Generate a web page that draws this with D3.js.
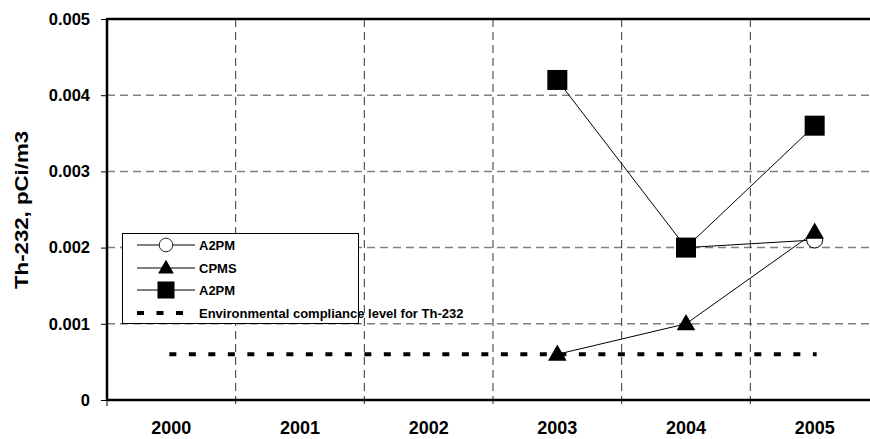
<!DOCTYPE html>
<html><head><meta charset="utf-8">
<script src="https://cdn.jsdelivr.net/npm/d3@7"></script>
<style>body{margin:0;background:#fff;overflow:hidden}svg{display:block;font-family:"Liberation Sans",Arial,sans-serif}</style>
</head><body><svg id="c" width="870" height="439"></svg>
<script>
const years = ["2000","2001","2002","2003","2004","2005"];
const yTicks = [0, 0.001, 0.002, 0.003, 0.004, 0.005];
const a2pmCircle = [null, null, null, null, 0.002, 0.0021];
const cpms = [null, null, null, 0.0006, 0.001, 0.0022];
const a2pmSquare = [null, null, null, 0.0042, 0.002, 0.0036];
const compliance = 0.0006;
const legendLabels = ["A2PM", "CPMS", "A2PM", "Environmental compliance level for Th-232"];

const svg = d3.select("#c");
const L = 107, R = 879, T = 19, B = 400;
const x = d3.scaleBand().domain(years).range([L, R]);
const y = d3.scaleLinear().domain([0, 0.005]).range([B, T]);

// horizontal grid
svg.append("g").selectAll("line").data(yTicks.filter(d => d > 0 && d < 0.005)).join("line")
  .attr("x1", L).attr("x2", R).attr("y1", d => y(d)).attr("y2", d => y(d))
  .attr("stroke", "#808080").attr("stroke-width", 1.5).attr("stroke-dasharray", "8,5");
// vertical grid
svg.append("g").selectAll("line").data(years.slice(1)).join("line")
  .attr("x1", d => x(d)).attr("x2", d => x(d)).attr("y1", T).attr("y2", B + 6)
  .attr("stroke", "#333").attr("stroke-width", 1).attr("stroke-dasharray", "8,5");

// axes
const yAxis = d3.axisLeft(y).tickValues(yTicks).tickSize(6).tickFormat(d => d === 0 ? "0" : d3.format(".3f")(d));
const gy = svg.append("g").attr("transform", `translate(${L},0)`).call(yAxis);
gy.select(".domain").remove();
gy.selectAll(".tick line").attr("stroke", "#000");
gy.selectAll("text").attr("font-size", 16.5).attr("font-weight", "bold").attr("fill", "#000").attr("x", -17);
const xAxis = d3.axisBottom(x).tickSize(0).tickPadding(21);
const gx = svg.append("g").attr("transform", `translate(0,${B})`).call(xAxis);
gx.select(".domain").remove();
gx.selectAll("text").attr("font-size", 18).attr("font-weight", "bold").attr("fill", "#000");
svg.append("line").attr("x1", L).attr("x2", L).attr("y1", B + 6).attr("y2", B).attr("stroke", "#000");

// frame
svg.append("line").attr("x1", L).attr("x2", R).attr("y1", B).attr("y2", B).attr("stroke", "#000").attr("stroke-width", 2.5);
svg.append("line").attr("x1", L).attr("x2", R).attr("y1", T).attr("y2", T).attr("stroke", "#000").attr("stroke-width", 2.5);
svg.append("line").attr("x1", L).attr("x2", L).attr("y1", T - 1).attr("y2", B + 1).attr("stroke", "#000").attr("stroke-width", 2.5);

// y title
svg.append("text").attr("transform", "translate(28,210) rotate(-90)").attr("text-anchor", "middle")
  .attr("font-size", 18).attr("font-weight", "bold")
  .attr("textLength", 158).attr("lengthAdjust", "spacingAndGlyphs").text("Th-232, pCi/m3");

const cx = d => x(d) + x.bandwidth() / 2;
// compliance
svg.append("line").attr("x1", cx("2000") - 2).attr("x2", cx("2005") + 2)
  .attr("y1", y(compliance)).attr("y2", y(compliance))
  .attr("stroke", "#000").attr("stroke-width", 4).attr("stroke-dasharray", "7,12.5");

const line = d3.line().defined(d => d.v != null).x(d => cx(d.k)).y(d => y(d.v));
const toPts = arr => years.map((k, i) => ({k, v: arr[i]}));
const tri = d3.symbol().type(d3.symbolTriangle).size(150);

function drawSeries(arr, kind) {
  const pts = toPts(arr);
  svg.append("path").datum(pts).attr("d", line).attr("fill", "none").attr("stroke", "#000").attr("stroke-width", 1);
  const g = svg.append("g");
  pts.filter(d => d.v != null).forEach(d => drawMarker(g, cx(d.k), y(d.v), kind));
}
function drawMarker(g, px, py, kind) {
  if (kind === "circle") g.append("circle").attr("cx", px).attr("cy", py).attr("r", 8).attr("fill", "#fff").attr("stroke", "#000").attr("stroke-width", 1);
  else if (kind === "tri") g.append("path").attr("d", tri).attr("transform", `translate(${px},${py + 1})`).attr("fill", "#000");
  else g.append("rect").attr("x", px - 10).attr("y", py - 10).attr("width", 20).attr("height", 20).attr("fill", "#000");
}
drawSeries(a2pmCircle, "circle");
drawSeries(cpms, "tri");
drawSeries(a2pmSquare, "square");

// legend
const lg = svg.append("g");
lg.append("rect").attr("x", 122.5).attr("y", 233.5).attr("width", 236).attr("height", 90)
  .attr("fill", "#fff").attr("stroke", "#000").attr("stroke-width", 1);
const kinds = ["circle", "tri", "square", "dash"];
const rowY = [245, 268, 290, 313];
const lsScale = 0.85;
kinds.forEach((k, i) => {
  const ry = rowY[i];
  if (k === "dash") {
    lg.append("line").attr("x1", 137).attr("x2", 195).attr("y1", ry).attr("y2", ry)
      .attr("stroke", "#000").attr("stroke-width", 4).attr("stroke-dasharray", "7,12.5");
  } else {
    lg.append("line").attr("x1", 137).attr("x2", 195).attr("y1", ry).attr("y2", ry).attr("stroke", "#000");
    const mg = lg.append("g").attr("transform", `translate(166,${ry}) scale(${lsScale})`);
    drawMarker(mg, 0, 0, k);
  }
  lg.append("text").attr("x", 199).attr("y", ry + 5).attr("font-size", 13).attr("font-weight", "bold").text(legendLabels[i]);
});
</script></body></html>
